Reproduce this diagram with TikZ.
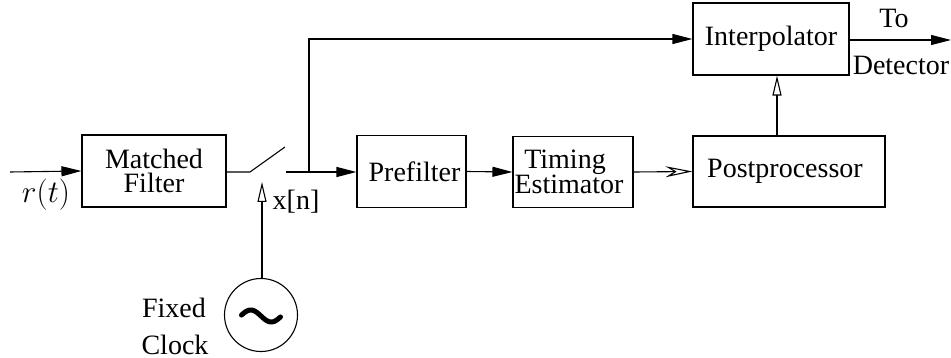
\documentclass[tikz,border=0pt]{standalone}
\usepackage{fontspec}
\setmainfont{Liberation Serif}
\usetikzlibrary{arrows.meta,calc}

\tikzset{
  block/.style={draw, line width=1.1pt, rectangle, inner sep=0pt, align=center},
  wire/.style={line width=1.1pt},
  solidarr/.style={wire, -{Triangle[length=20pt,width=10pt]}},
  hollowarr/.style={wire, -{Triangle[open,length=20pt,width=9pt]}},
  stealtharr/.style={wire, -{Stealth[open,length=27pt,width=11pt,inset=9pt]}},
  lbl/.style={inner sep=0pt, anchor=base}
}

\begin{document}
\begin{tikzpicture}[x=1pt,y=-1pt,font=\fontsize{28}{24.5}\selectfont]
\useasboundingbox (0,0) rectangle (951,358);

% processing blocks
\node[block, minimum width=144pt, minimum height=72pt] (mf)     at (154,171) {Matched\\Filter};
\node[block, minimum width=109pt, minimum height=72pt] (pre)    at (411.5,171.5) {\hspace*{6pt}Prefilter};
\node[block, minimum width=120pt, minimum height=71pt] (te)     at (573,172) {Timing\hspace*{16pt}\\Estimator\hspace*{8pt}};
\node[block, minimum width=192pt, minimum height=71pt] (post)   at (789,171.5) {Postprocessor\hspace*{8pt}};
\node[block, minimum width=156pt, minimum height=72pt] (interp) at (771,39) {Interpolator};

% fixed clock source with its sine symbol
\node[draw, circle, line width=1.1pt, minimum size=73pt, inner sep=0pt] (clk) at (261,315) {};
\draw[line width=5pt, line cap=round]
  plot[domain=-0.95:0.95, samples=41, smooth] ({261+20.5*\x}, {316+6*sin(180*\x)});

% switch and helper points
\coordinate (in)     at (10,172);
\coordinate (sw1)    at (250,172);
\coordinate (sw2)    at (285,147);
\coordinate (sw3)    at (286,172);
\coordinate (branch) at (309,172);
\coordinate (clktip) at (262,182);
\coordinate (vx)     at (777,0);
\coordinate (out)    at (951,40);

% connections
\draw[solidarr] (in) -- (mf.west);
\draw[wire] (mf.east |- sw1) -- (sw1) -- (sw2);
\draw[solidarr] (sw3) -- (pre.west |- sw3);
\draw[solidarr] (branch) |- (interp.west);
\draw[solidarr] (pre.east) -- (te.west);
\draw[stealtharr] (te.east) -- (post.west);
\draw[hollowarr] (post.north -| vx) -- (interp.south -| vx);
\draw[solidarr] (interp.east |- out) -- (out);
\draw[hollowarr] (clk.north -| clktip) -- (clktip);

% labels
\node[lbl] (rt)    at (46,203)  {\resizebox{48pt}{!}{$r(t)$}};
\node[lbl] (xn)    at (296,210) {x[n]};
\node[lbl] (fixed) at (174,317) {Fixed};
\node[lbl] (clock) at (175,354) {Clock};
\node[lbl] (to)    at (894,28)  {To};
\node[lbl] (det)   at (901,75)  {Detector};
\end{tikzpicture}
\end{document}
